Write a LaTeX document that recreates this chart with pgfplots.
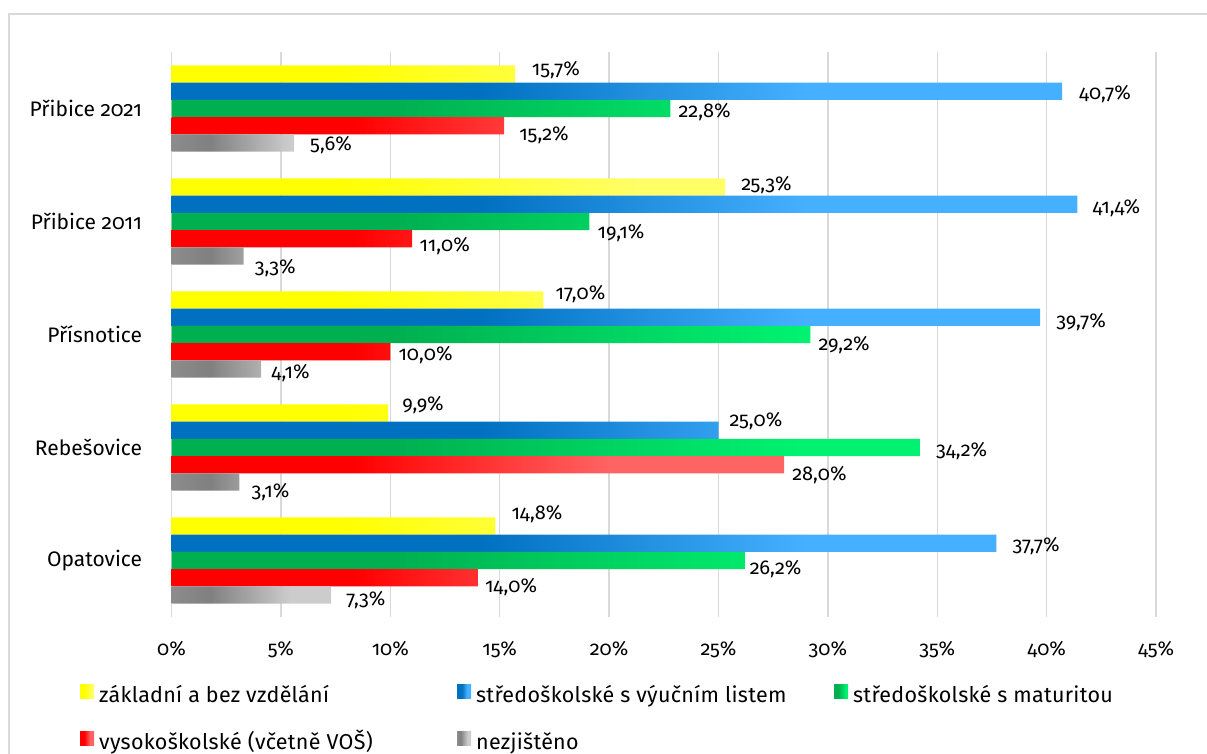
\documentclass[border=0pt]{standalone}
\usepackage{fontspec}
\setmainfont{Fira Sans}[Numbers=OldStyle]
\usepackage{pgfplots}
\usepackage{pgfplotstable}
\pgfplotsset{compat=1.18}

\definecolor{gridc}{HTML}{D9D9D9}
\definecolor{cYa}{HTML}{FFFF00}
\definecolor{cYb}{HTML}{FFFF66}
\definecolor{cBa}{HTML}{0070C0}
\definecolor{cBb}{HTML}{45B0FF}
\definecolor{cGa}{HTML}{00B050}
\definecolor{cGb}{HTML}{00F270}
\definecolor{cRa}{HTML}{FF0000}
\definecolor{cRb}{HTML}{FF6464}
\definecolor{cKo}{HTML}{8C8C8C}
\definecolor{cKa}{HTML}{808080}
\definecolor{cKb}{HTML}{CCCCCC}

\pgfdeclarehorizontalshading{shY}{100bp}{color(0bp)=(cYa); color(25bp)=(cYa); color(40bp)=(cYa); color(67bp)=(cYb); color(100bp)=(cYb)}
\pgfdeclarehorizontalshading{shB}{100bp}{color(0bp)=(cBa); color(25bp)=(cBa); color(42bp)=(cBa); color(60bp)=(cBb); color(100bp)=(cBb)}
\pgfdeclarehorizontalshading{shG}{100bp}{color(0bp)=(cGa); color(25bp)=(cGa); color(40bp)=(cGa); color(67bp)=(cGb); color(100bp)=(cGb)}
\pgfdeclarehorizontalshading{shR}{100bp}{color(0bp)=(cRa); color(25bp)=(cRa); color(40bp)=(cRa); color(61bp)=(cRb); color(100bp)=(cRb)}
\pgfdeclarehorizontalshading{shK}{100bp}{color(0bp)=(cKo); color(25bp)=(cKo); color(37bp)=(cKa); color(62bp)=(cKb); color(100bp)=(cKb)}

\newcommand\lbl{\fontsize{20bp}{24bp}\selectfont}
\newcommand\cat{\fontsize{21bp}{25bp}\selectfont}
\newcommand\lgd{\fontsize{21.5bp}{25bp}\selectfont\addfontfeatures{LetterSpace=1.3}}

% y: 4 = Přibice 2021 ... 0 = Opatovice ; dx, dy = label offsets (bp)
\pgfplotstableread{
y x dx dy
4 15.7 16.7 1.7
3 25.3 16 4
2 17.0 12 0
1 9.9 14 -2.3
0 14.8 16 -6.5
}\tYel
\pgfplotstableread{
y x dx dy
4 40.7 17 8
3 41.4 15 9
2 39.7 16 10
1 25.0 11 -4
0 37.7 16 8
}\tBlu
\pgfplotstableread{
y x dx dy
4 22.8 8 9
3 19.1 8 17
2 29.2 8 16
1 34.2 16 9
0 26.2 5 14
}\tGrn
\pgfplotstableread{
y x dx dy
4 15.2 15 14.5
3 11.0 7.3 13
2 10.0 8 8.4
1 28.0 8 16
0 14.0 7 15
}\tRed
\pgfplotstableread{
y x dx dy
4 5.6 16 7.7
3 3.3 11 17
2 4.1 10 9.7
1 3.1 12 15
0 7.3 15 10.7
}\tGry

\begin{document}
\begin{tikzpicture}
\useasboundingbox (0,0) rectangle (1207bp,754bp);
\draw[gridc, line width=1.5bp] (9bp,-20bp) rectangle (1240bp,740bp);
\begin{axis}[
  at={(171.5bp,137bp)}, anchor=south west,
  scale only axis, width=984.6bp, height=565bp,
  xmin=0, xmax=45, ymin=-0.5, ymax=4.5,
  clip=false,
  axis line style={draw=none},
  tick style={draw=none},
  xmajorgrids, grid style={gridc, line width=1.5bp},
  xtick={0,5,...,45},
  xticklabels={0\%,5\%,10\%,15\%,20\%,25\%,30\%,35\%,40\%,45\%},
  xticklabel style={anchor=base, inner sep=0pt, yshift=-38bp, font=\lbl},
  ytick={0,1,2,3,4},
  yticklabels={Opatovice,Rebešovice,Přísnotice,Přibice 2011,Přibice 2021},
  yticklabel style={anchor=east, inner sep=0pt, xshift=-25bp, font=\cat},
  xbar,
  bar width=0.153,
  point meta=x,
  nodes near coords={\pgfmathprintnumber[fixed,fixed zerofill,precision=1,use comma,assume math mode=true]{\pgfplotspointmeta}\%},
  visualization depends on={\thisrow{dx} \as \dx},
  visualization depends on={\thisrow{dy} \as \dy},
  nodes near coords style={anchor=base west, inner sep=0pt, xshift=\dx bp, yshift=-\dy bp, font=\lbl, text=black},
  legend style={at={(axis description cs:-0.096,-0.1151)}, anchor=north west, draw=none, fill=none, font=\lgd,
    column sep=0pt, row sep=24bp, nodes={inner sep=0pt, text height=15bp, text depth=5bp}},
  legend columns=3,
  legend cell align=left,
]
\addplot[draw=none, shade, shading=shY, bar shift=0.306,
  legend image code/.code={\shade[shading=shY] (0bp,-1bp) rectangle (14bp,13bp);}]
  table[x=x,y=y] {\tYel};
\addlegendentry{\hspace*{5bp}\makebox[358bp][l]{základní a bez vzdělání}}
\addplot[draw=none, shade, shading=shB, bar shift=0.153,
  legend image code/.code={\shade[shading=shB] (0bp,-1bp) rectangle (14bp,13bp);}]
  table[x=x,y=y] {\tBlu};
\addlegendentry{\hspace*{5bp}\makebox[358bp][l]{středoškolské s výučním listem}}
\addplot[draw=none, shade, shading=shG, bar shift=0,
  legend image code/.code={\shade[shading=shG] (0bp,-1bp) rectangle (14bp,13bp);}]
  table[x=x,y=y] {\tGrn};
\addlegendentry{\hspace*{5bp}\makebox[358bp][l]{středoškolské s maturitou}}
\addplot[draw=none, shade, shading=shR, bar shift=-0.153,
  legend image code/.code={\shade[shading=shR] (0bp,-1bp) rectangle (14bp,13bp);}]
  table[x=x,y=y] {\tRed};
\addlegendentry{\hspace*{5bp}\makebox[358bp][l]{vysokoškolské (včetně VOŠ)}}
\addplot[draw=none, shade, shading=shK, bar shift=-0.306,
  legend image code/.code={\shade[shading=shK] (0bp,-1bp) rectangle (14bp,13bp);}]
  table[x=x,y=y] {\tGry};
\addlegendentry{\hspace*{5bp}\makebox[358bp][l]{nezjištěno}}
\end{axis}
\end{tikzpicture}
\end{document}
